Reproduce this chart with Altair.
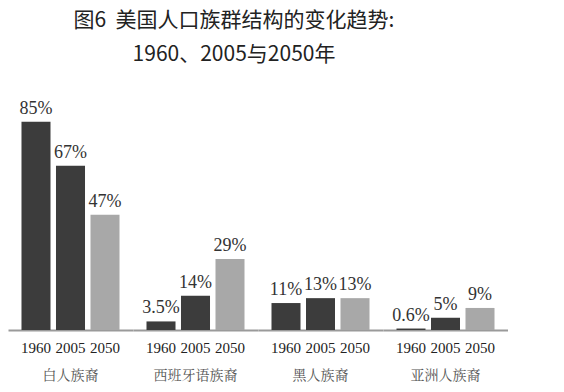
import altair as alt
import pandas as pd

groups = ["白人族裔", "西班牙语族裔", "黑人族裔", "亚洲人族裔"]
years = ["1960", "2005", "2050"]
white = [85, 67, 47]
hispanic = [3.5, 14, 29]
black = [11, 13, 13]
asian = [0.6, 5, 9]
labels_white = ["85%", "67%", "47%"]
labels_hispanic = ["3.5%", "14%", "29%"]
labels_black = ["11%", "13%", "13%"]
labels_asian = ["0.6%", "5%", "9%"]

rows = []
for g, vals, labs in zip(groups, [white, hispanic, black, asian],
                         [labels_white, labels_hispanic, labels_black, labels_asian]):
    for y, v, l in zip(years, vals, labs):
        rows.append({"group": g, "year": y, "value": v, "label": l})
df = pd.DataFrame(rows)

x_enc = alt.X(
    "year:N", sort=years,
    scale=alt.Scale(paddingInner=0.159, paddingOuter=0.391),
    axis=alt.Axis(title=None, labelFont="Liberation Serif", labelFontSize=15,
                  labelColor="#222222", ticks=False, domainColor="#9a9a9a",
                  domainWidth=2, labelPadding=10, labelAngle=0),
)
y_enc = alt.Y("value:Q", scale=alt.Scale(domain=[0, 100]), axis=None)

bars = alt.Chart().mark_bar().encode(
    x=x_enc, y=y_enc,
    color=alt.Color("year:N", sort=years,
                    scale=alt.Scale(domain=years, range=["#3c3c3c", "#3c3c3c", "#a8a8a8"]),
                    legend=None),
)
text = alt.Chart().mark_text(
    baseline="alphabetic", dy=-8, font="Liberation Serif", fontSize=18, color="#333333"
).encode(x=x_enc, y=y_enc, text="label:N")

chart = alt.layer(bars, text, data=df).properties(width=125, height=245).facet(
    column=alt.Column("group:N", sort=groups,
                      header=alt.Header(labelOrient="bottom", title=None,
                                        labelFont="Noto Serif CJK SC, Noto Sans CJK SC",
                                        labelFontSize=14, labelColor="#555555",
                                        labelPadding=14)),
    spacing=0,
).properties(
    title=alt.TitleParams(
        text=["图6\u00a0\u00a0美国人口族群结构的变化趋势:", "1960、2005与2050年"],
        font="Noto Sans CJK SC", fontSize=21, fontWeight="normal", color="#222222",
        lineHeight=34, anchor="middle", dx=-24, offset=20,
    ),
    padding={"left": 0, "top": 2, "right": 0, "bottom": 0},
).configure_view(stroke=None)

chart.save("out.html", embed_options={"renderer": "svg", "actions": False})
